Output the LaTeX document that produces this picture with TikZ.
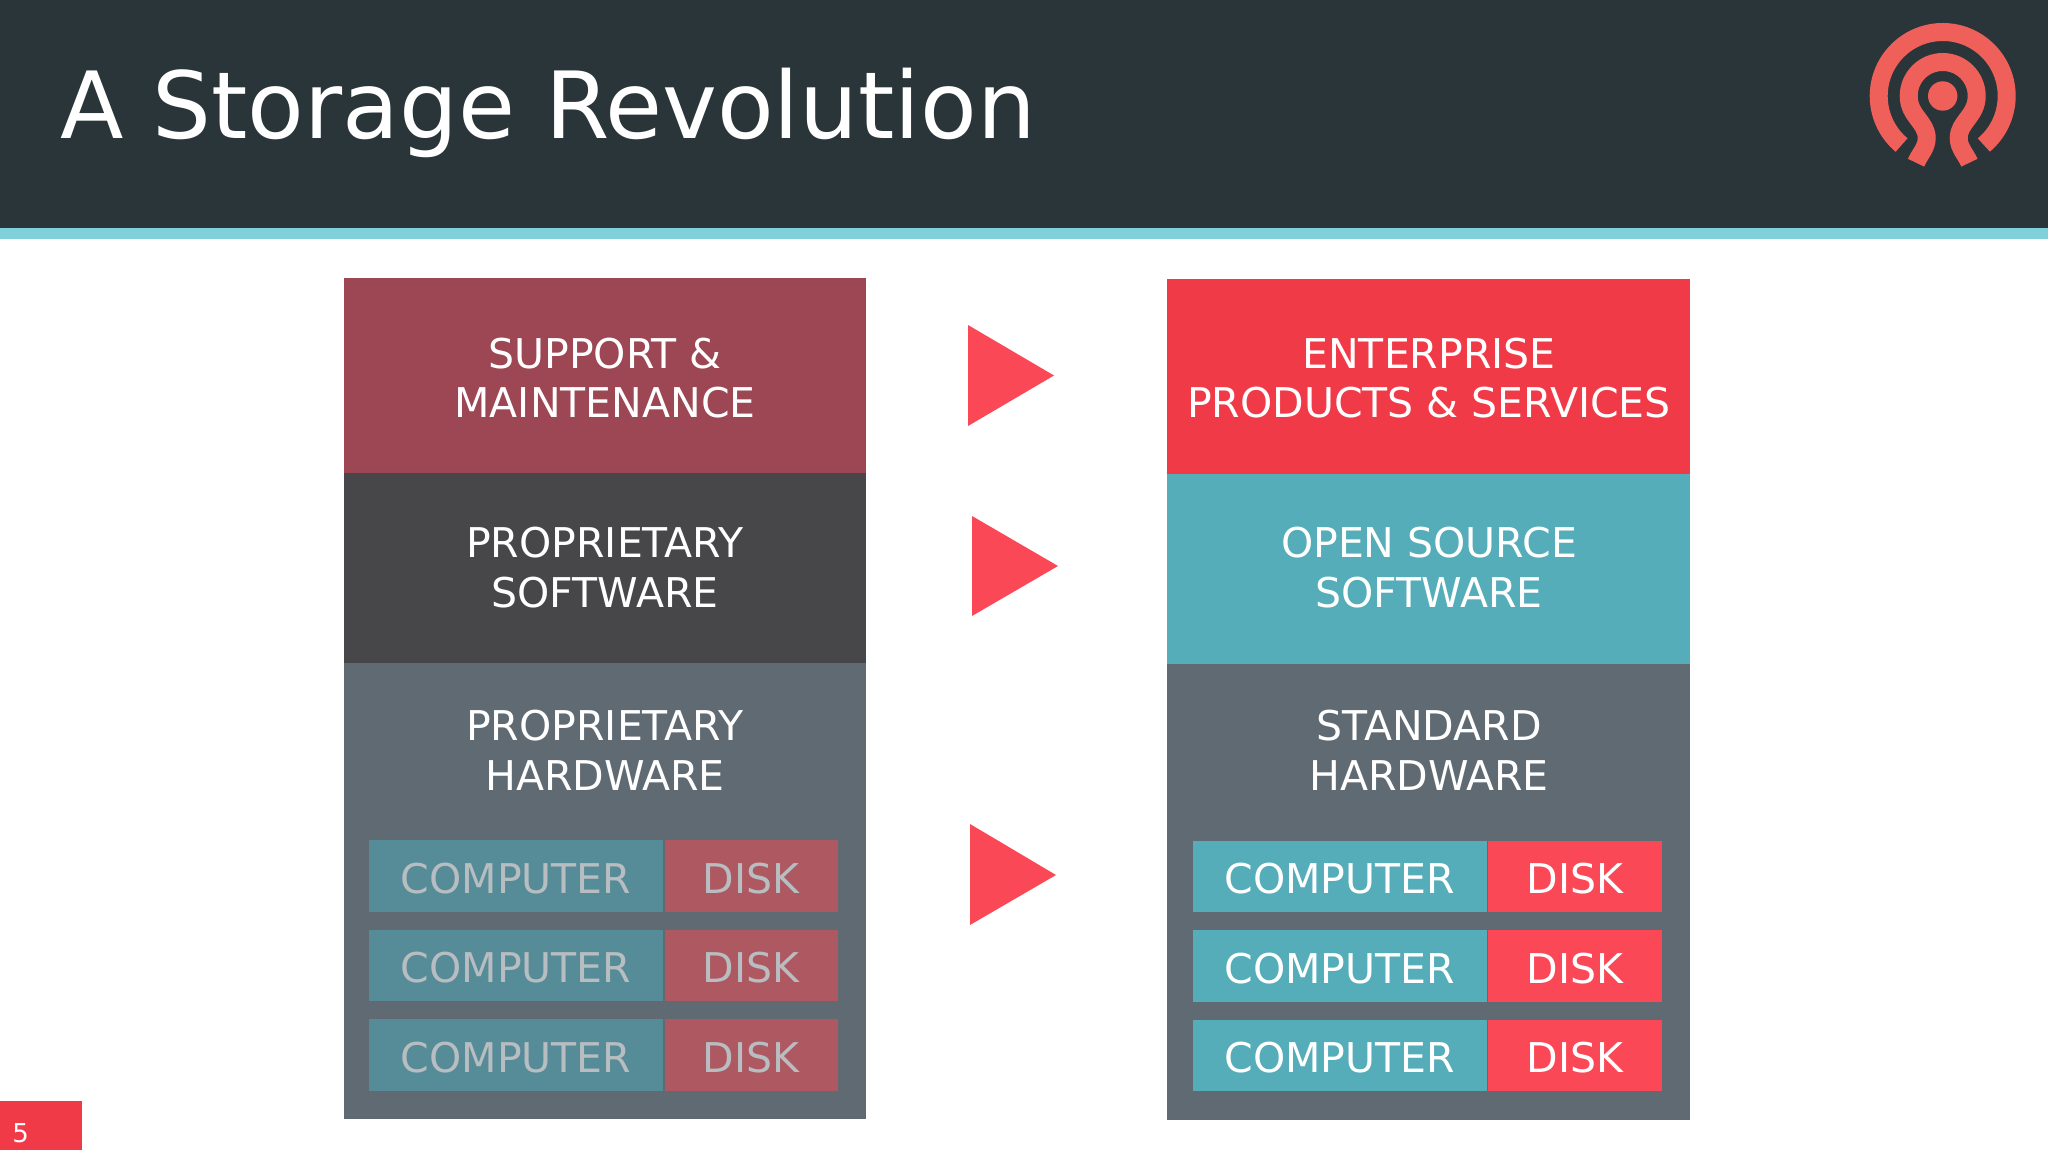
\documentclass[tikz,border=0pt]{standalone}
\usepackage{fontspec}
\setmainfont{DejaVu Sans}
\definecolor{headbg}{HTML}{2A3539}
\definecolor{band}{HTML}{7FD0DA}
\definecolor{logo}{HTML}{F0605A}
\definecolor{corner}{HTML}{F13A47}
\definecolor{maint}{HTML}{9C4753}
\definecolor{prop}{HTML}{474649}
\definecolor{slate}{HTML}{5F6A72}
\definecolor{tealbox}{HTML}{55ADB9}
\definecolor{redbox}{HTML}{FB4856}
\definecolor{dimteal}{HTML}{558C98}
\definecolor{dimred}{HTML}{AE5862}
\definecolor{dimtext}{HTML}{B7BDC0}
\tikzset{
  plain/.style={draw=none,inner sep=0pt,outer sep=0pt},
  panel/.style={plain,anchor=north west,minimum width=522.5pt},
  label/.style={plain,text=white,align=center,font=\fontsize{41}{49.6}\selectfont},
  cell/.style={plain,anchor=north west,minimum height=71.5pt,text=white,text height=35pt,text depth=0pt,font=\fontsize{41}{49.6}\selectfont},
  comp/.style={cell,minimum width=294pt},
  dsk/.style={cell,minimum width=173.5pt},
  tri/.style={fill=redbox,draw=none},
  ring/.style={draw=logo,line width=18pt,line cap=butt}
}
\begin{document}
\begin{tikzpicture}[x=1pt,y=-1pt]
\useasboundingbox (0,0) rectangle (2048,1150);
\fill[white] (0,0) rectangle (2048,1150);
% header
\fill[headbg] (0,0) rectangle (2048,228);
\fill[band] (0,228) rectangle (2048,239.5);
\node[plain,anchor=base west,text=white,font=\fontsize{92.7}{100}\selectfont] (title) at (60,139) {A Storage Revolution};
% logo
\begin{scope}[shift={(1942.7,96)},y=1pt]
  \draw[ring] (230:64) arc[start angle=230,end angle=-50,radius=64];
  \draw[ring] (-26.7,-66.7) .. controls (-23,-58) and (-16,-52) .. (-16,-42)
     .. controls (-16,-26) and (-34,-20) .. (-34,0)
     arc[start angle=180,end angle=0,radius=34]
     .. controls (34,-20) and (16,-26) .. (16,-42)
     .. controls (16,-52) and (23,-58) .. (26.7,-66.7);
  \fill[logo] (0,0) circle[radius=14.7];
\end{scope}
% page number
\fill[corner] (0,1101) rectangle (81.5,1150);
\node[plain,anchor=base west,text=white,font=\fontsize{26}{30}\selectfont] (page) at (12.5,1142) {5};
% left column
\node[panel,fill=maint,minimum height=195pt] (lsup) at (343.7,278) {};
\node[panel,fill=prop,minimum height=190pt] (lsw) at (343.7,473) {};
\node[panel,fill=slate,minimum height=456pt] (lhw) at (343.7,663) {};
\node[label] (lsupt) at (605,378) {SUPPORT \&\\MAINTENANCE};
\node[label] (lswt) at (605,567.5) {PROPRIETARY\\SOFTWARE};
\node[label] (lhwt) at (605,750) {PROPRIETARY\\HARDWARE};
% right column
\node[panel,fill=corner,minimum height=195pt] (rsup) at (1167.2,279) {};
\node[panel,fill=tealbox,minimum height=190pt] (rsw) at (1167.2,474) {};
\node[panel,fill=slate,minimum height=456pt] (rhw) at (1167.2,664) {};
\node[label] (rsupt) at (1429,378) {ENTERPRISE\\PRODUCTS \& SERVICES};
\node[label] (rswt) at (1429,567.5) {OPEN SOURCE\\SOFTWARE};
\node[label] (rhwt) at (1429,750.5) {STANDARD\\HARDWARE};
% computer and disk rows
\foreach \n/\y in {1/840,2/929.5,3/1019}{
  \node[comp,fill=dimteal,text=dimtext] (lc\n) at (369,\y) {COMPUTER};
  \node[dsk,fill=dimred,text=dimtext] (ld\n) at (664.5,\y) {DISK};
  \node[comp,fill=tealbox] (rc\n) at (1192.8,\y+0.5) {COMPUTER};
  \node[dsk,fill=redbox] (rd\n) at (1488,\y+0.5) {DISK};
}
% triangles
\fill[tri] (968,325) -- (1054,375.5) -- (968,426) -- cycle;
\fill[tri] (972,516) -- (1058,566) -- (972,616) -- cycle;
\fill[tri] (970,824) -- (1056,875) -- (970,925) -- cycle;
\end{tikzpicture}
\end{document}
